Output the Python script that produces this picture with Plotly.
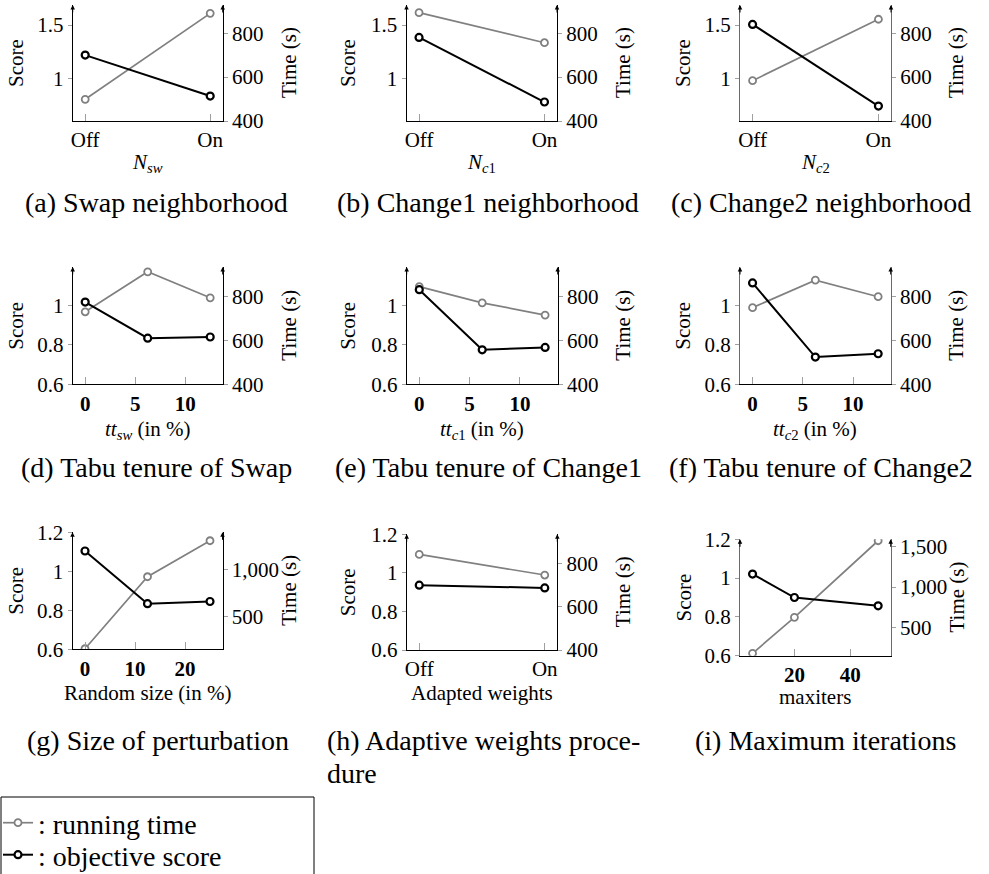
import plotly.graph_objects as go

W, H = 989, 874

# ---------------- data ----------------
onoff = ['Off', 'On']
tt_pct = [0, 6.25, 12.5]
rand_pct = [0, 12.5, 25]
maxiters = [5, 20, 50]

score_a = [1.218, 0.834]
time_a = [499, 891]
score_b = [1.384, 0.778]
time_b = [894, 757]
score_c = [1.506, 0.740]
time_c = [584, 864]
score_d = [1.017, 0.834, 0.840]
time_d = [732, 915, 796]
score_e = [1.080, 0.775, 0.787]
time_e = [847, 773, 717]
score_f = [1.114, 0.738, 0.755]
time_f = [751, 877, 801]
score_g = [1.104, 0.834, 0.845]
time_g = [162, 922, 1302]
score_h = [0.936, 0.922]
time_h = [841, 746]
score_i = [1.021, 0.900, 0.857]
time_i = [177, 624, 1574]

xtitles = [
    "<i>N</i><sub><i>sw</i></sub>",
    "<i>N</i><sub><i>c</i>1</sub>",
    "<i>N</i><sub><i>c</i>2</sub>",
    "<i>tt</i><sub><i>sw</i></sub> (in %)",
    "<i>tt</i><sub><i>c</i>1</sub> (in %)",
    "<i>tt</i><sub><i>c</i>2</sub> (in %)",
    "Random size (in %)",
    "Adapted weights",
    "maxiters",
]
captions = [
    "(a) Swap neighborhood", "(b) Change1 neighborhood", "(c) Change2 neighborhood",
    "(d) Tabu tenure of Swap", "(e) Tabu tenure of Change1", "(f) Tabu tenure of Change2",
    "(g) Size of perturbation", "(h) Adaptive weights proce-", "(i) Maximum iterations",
]
caption2_h = "dure"
score_label = "Score"
time_label = "Time (s)"
legend_time = ": running time"
legend_score = ": objective score"

xs = [onoff, onoff, onoff, tt_pct, tt_pct, tt_pct, rand_pct, onoff, maxiters]
scores = [score_a, score_b, score_c, score_d, score_e, score_f, score_g, score_h, score_i]
times = [time_a, time_b, time_c, time_d, time_e, time_f, time_g, time_h, time_i]

# ---------------- layout config (pixels) ----------------
cfg = [
    dict(p=(72.7, 222.7, 5, 121), xr=[-0.1, 1.1], xt=None, sr=[0.6, 1.688], st=[1, 1.5], tr=[400, 929], tt=[400, 600, 800], ac='#000'),
    dict(p=(406.5, 557.0, 5, 121), xr=[-0.1, 1.1], xt=None, sr=[0.6, 1.688], st=[1, 1.5], tr=[400, 929], tt=[400, 600, 800], ac='#000'),
    dict(p=(740.0, 891.0, 5, 121), xr=[-0.1, 1.1], xt=None, sr=[0.6, 1.688], st=[1, 1.5], tr=[400, 929], tt=[400, 600, 800], ac='#6a6a6a'),
    dict(p=(72.7, 222.7, 267, 384.3), xr=[-1.25, 13.75], xt=[0, 5, 10], sr=[0.6, 1.195], st=[0.6, 0.8, 1, 1.2], tr=[400, 937], tt=[400, 600, 800], ac='#000'),
    dict(p=(406.7, 557.7, 267, 384.3), xr=[-1.25, 13.75], xt=[0, 5, 10], sr=[0.6, 1.195], st=[0.6, 0.8, 1, 1.2], tr=[400, 937], tt=[400, 600, 800], ac='#000'),
    dict(p=(740.0, 890.7, 267, 384.3), xr=[-1.25, 13.75], xt=[0, 5, 10], sr=[0.6, 1.195], st=[0.6, 0.8, 1, 1.2], tr=[400, 937], tt=[400, 600, 800], ac='#6a6a6a'),
    dict(p=(72.5, 222.5, 532.3, 649.3), xr=[-2.5, 27.5], xt=[0, 10, 20], sr=[0.6, 1.2], st=[0.6, 0.8, 1, 1.2], tr=[156, 1391], tt=[500, 1000], ac='#000'),
    dict(p=(406.7, 557.3, 534.3, 650), xr=[-0.1, 1.1], xt=None, sr=[0.6, 1.2], st=[0.6, 0.8, 1, 1.2], tr=[400, 934], tt=[400, 600, 800], ac='#000'),
    dict(p=(740.0, 890.7, 539.3, 655.7), xr=[0.5, 54.5], xt=[20, 40], sr=[0.6, 1.2], st=[0.6, 0.8, 1, 1.2], tr=[148, 1592], tt=[500, 1000, 1500], ac='#6a6a6a'),
]
xtitle_y = [163, 163, 163, 430, 430, 430, 693, 693, 697]
caption_x = [156, 488, 821, 156, 488, 821, 158, 325, 825]
caption_y = [203, 203, 203, 467, 467, 467, 740, 740, 740]

FONT = "'Liberation Serif', 'Times New Roman', serif"
GRAY = '#808080'
TICK_SIZE = 21
LABEL_SIZE = 21
CAP_SIZE = 28


def px(x):
    return x / W


def py(y):
    return 1 - y / H


fig = go.Figure()
annotations = []
layout = {}

for k in range(9):
    c = cfg[k]
    x0, x1, yt, yb = c['p']
    n = k + 1
    xa = 'x' if n == 1 else f'x{n}'
    ytime_i = 2 * n - 1
    yscore_i = 2 * n
    ytime = 'y' if ytime_i == 1 else f'y{ytime_i}'
    yscore = f'y{yscore_i}'

    fig.add_trace(go.Scatter(
        x=xs[k], y=times[k], xaxis=xa, yaxis=ytime, mode='lines+markers',
        line=dict(color=GRAY, width=1.7),
        marker=dict(symbol='circle', size=7, color='white', line=dict(color=GRAY, width=1.8)),
        name=legend_time, showlegend=(k == 0), legend='legend'))
    fig.add_trace(go.Scatter(
        x=xs[k], y=scores[k], xaxis=xa, yaxis=yscore, mode='lines+markers',
        line=dict(color='black', width=2),
        marker=dict(symbol='circle', size=7, color='white', line=dict(color='black', width=2.2)),
        name=legend_score, showlegend=(k == 0), legend='legend2'))

    xkey = 'xaxis' if n == 1 else f'xaxis{n}'
    xdict = dict(domain=[px(x0), px(x1)], anchor=ytime, range=c['xr'],
                 showline=True, linecolor='black', linewidth=1,
                 showgrid=False, zeroline=False,
                 ticks='inside', ticklen=7, tickcolor='#a0a0a0', tickwidth=1,
                 tickfont=dict(family=FONT, size=TICK_SIZE, color='black'))
    if c['xt'] is None:
        xdict.update(type='category')
    else:
        xdict.update(tickvals=c['xt'], tickfont=dict(family=FONT, size=TICK_SIZE, color='black', weight='bold'))
    layout[xkey] = xdict

    tkey = 'yaxis' if ytime_i == 1 else f'yaxis{ytime_i}'
    layout[tkey] = dict(domain=[py(yb), py(yt)], anchor=xa, side='right', range=c['tr'],
                        tickvals=c['tt'], tickformat=',',
                        showline=True, linecolor=c['ac'], linewidth=1,
                        showgrid=False, zeroline=False,
                        ticks='outside', ticklen=4, tickcolor='#a0a0a0',
                        tickfont=dict(family=FONT, size=TICK_SIZE, color='black'))
    layout[f'yaxis{yscore_i}'] = dict(overlaying=ytime, anchor=xa, side='left', range=c['sr'],
                                      tickvals=c['st'],
                                      showline=True, linecolor=c['ac'], linewidth=1,
                                      showgrid=False, zeroline=False,
                                      ticks='outside', ticklen=4, tickcolor='#a0a0a0',
                                      tickfont=dict(family=FONT, size=TICK_SIZE, color='black'))

    for ax_x in (x0, x1):
        annotations.append(dict(x=px(ax_x), y=py(yt), xref='paper', yref='paper', text='',
                                showarrow=True, ax=0, ay=9, arrowhead=2, arrowsize=0.9,
                                arrowwidth=1, arrowcolor='black', standoff=0))

    ymid = (yt + yb) / 2
    colx = [(16, 289), (348, 623), (683, 956)][k % 3]
    annotations.append(dict(x=px(colx[0]), y=py(ymid), xref='paper', yref='paper', text=score_label,
                            textangle=-90, showarrow=False, xanchor='center', yanchor='middle',
                            font=dict(family=FONT, size=LABEL_SIZE, color='black')))
    annotations.append(dict(x=px(colx[1]), y=py(ymid), xref='paper', yref='paper', text=time_label,
                            textangle=-90, showarrow=False, xanchor='center', yanchor='middle',
                            font=dict(family=FONT, size=LABEL_SIZE, color='black')))
    annotations.append(dict(x=px((x0 + x1) / 2), y=py(xtitle_y[k]), xref='paper', yref='paper',
                            text=xtitles[k], showarrow=False, xanchor='center', yanchor='middle',
                            font=dict(family=FONT, size=LABEL_SIZE, color='black')))
    if k == 7:
        annotations.append(dict(x=px(caption_x[k]), y=py(caption_y[k]), xref='paper', yref='paper',
                                text=captions[k], showarrow=False, xanchor='left', yanchor='middle',
                                font=dict(family=FONT, size=CAP_SIZE, color='black')))
        annotations.append(dict(x=px(caption_x[k]), y=py(773), xref='paper', yref='paper',
                                text=caption2_h, showarrow=False, xanchor='left', yanchor='middle',
                                font=dict(family=FONT, size=CAP_SIZE, color='black')))
    else:
        annotations.append(dict(x=px(caption_x[k]), y=py(caption_y[k]), xref='paper', yref='paper',
                                text=captions[k], showarrow=False, xanchor='center', yanchor='middle',
                                font=dict(family=FONT, size=CAP_SIZE, color='black')))

leg_common = dict(xanchor='left', yanchor='middle', bgcolor='rgba(0,0,0,0)', borderwidth=0,
                  font=dict(family=FONT, size=CAP_SIZE, color='black'), itemwidth=30)

fig.update_layout(
    width=W, height=H, margin=dict(l=0, r=0, t=0, b=0, autoexpand=False),
    paper_bgcolor='white', plot_bgcolor='rgba(0,0,0,0)',
    font=dict(family=FONT, size=20, color='black'),
    annotations=annotations,
    showlegend=True,
    legend=dict(x=px(-2), y=py(823), **leg_common),
    legend2=dict(x=px(-2), y=py(855), **leg_common),
    shapes=[dict(type='rect', xref='paper', yref='paper',
                 x0=px(1), x1=px(314), y0=py(890), y1=py(797),
                 line=dict(color='black', width=1), fillcolor='rgba(0,0,0,0)', layer='below')],
    **layout,
)

fig.write_html("out.html")
